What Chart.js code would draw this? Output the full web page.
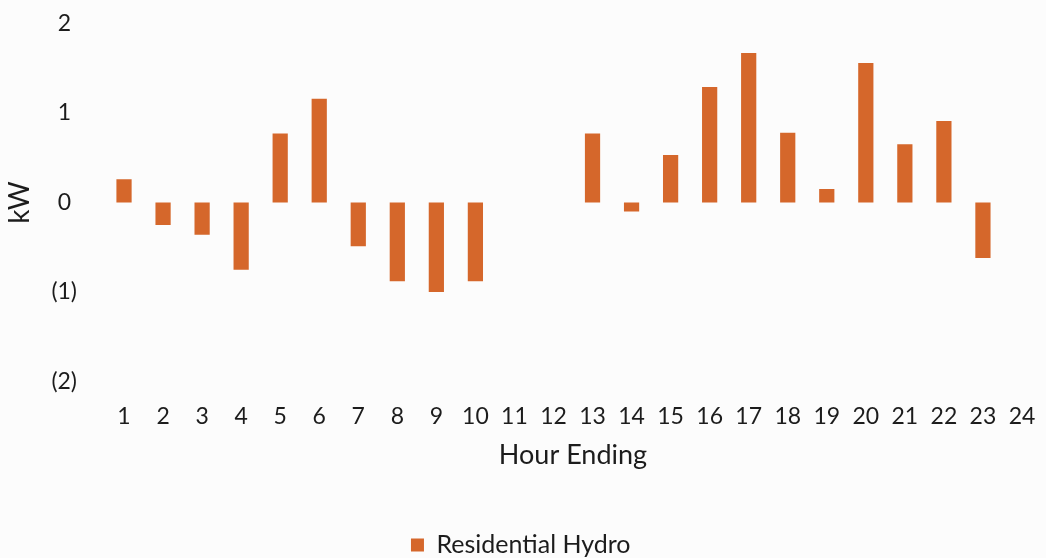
<!DOCTYPE html>
<html>
<head>
<meta charset="utf-8">
<script src="https://cdn.jsdelivr.net/npm/chart.js@4.4.1/dist/chart.umd.min.js"></script>
<style>
  html, body { margin: 0; padding: 0; background: #fcfcfc; }
  #wrap { width: 1046px; height: 558px; position: relative; }
</style>
</head>
<body>
<div id="wrap"><canvas id="chart"></canvas></div>
<script>
// Hourly residential hydro load change (kW)
const hours = ['1','2','3','4','5','6','7','8','9','10','11','12',
               '13','14','15','16','17','18','19','20','21','22','23','24'];
const residentialHydro = [0.26, -0.25, -0.36, -0.75, 0.77, 1.16, -0.49, -0.88, -1.00, -0.88, 0, 0,
                          0.77, -0.10, 0.53, 1.29, 1.67, 0.78, 0.15, 1.56, 0.65, 0.91, -0.62, 0];
const yTicks = [-2, -1, 0, 1, 2];

const barColor = '#d5672b';
const textColor = '#1c1c1c';
const fontFamily = 'Lato, "Noto Sans", sans-serif';

// Accounting style: negatives in parentheses, positives padded for the ")"
function kwLabel(v) {
  return v < 0 ? '(' + Math.abs(v) + ')' : v + ' ';
}

new Chart(document.getElementById('chart'), {
  type: 'bar',
  data: {
    labels: hours,
    datasets: [{
      label: 'Residential Hydro',
      data: residentialHydro,
      backgroundColor: barColor,
      borderWidth: 0,
      categoryPercentage: 1.0,
      barPercentage: 0.39
    }]
  },
  options: {
    responsive: true,
    maintainAspectRatio: false,
    animation: false,
    devicePixelRatio: 1,
    layout: { padding: { top: 23.5, right: 4.5, left: 0, bottom: -9.5 } },
    plugins: {
      legend: {
        position: 'bottom',
        labels: {
          color: textColor,
          font: { family: fontFamily, size: 25 },
          boxWidth: 13,
          boxHeight: 13,
          padding: 10
        }
      },
      tooltip: { enabled: false }
    },
    scales: {
      x: {
        afterFit: (scale) => { scale.paddingLeft = 0; scale.paddingRight = 0; },
        grid: { display: false, drawTicks: false },
        border: { display: false },
        ticks: {
          color: textColor,
          font: { family: fontFamily, size: 23 },
          padding: 21.7,
          maxRotation: 0,
          autoSkip: false
        },
        title: {
          display: true,
          text: 'Hour Ending',
          color: textColor,
          font: { family: fontFamily, size: 27 },
          // tick padding is counted on both sides of the labels, so the
          // title sits closer than that extra band
          padding: { top: -13.7, bottom: 51.3 }
        }
      },
      y: {
        min: -2,
        max: 2,
        afterBuildTicks: (scale) => {
          scale.ticks = yTicks.map(v => ({ value: v }));
        },
        afterFit: (scale) => {
          scale.width = 104.5;
          scale.paddingTop = 0;
          scale.paddingBottom = 0;
        },
        grid: { display: false, drawTicks: false },
        border: { display: false },
        ticks: {
          color: textColor,
          font: { family: fontFamily, size: 23 },
          padding: 27.5,
          callback: (v) => kwLabel(v)
        },
        title: {
          display: true,
          text: 'kW',
          color: textColor,
          font: { family: fontFamily, size: 28, lineHeight: 1.2 },
          padding: { top: 3.2, bottom: 0 }
        }
      }
    }
  }
});
</script>
</body>
</html>
